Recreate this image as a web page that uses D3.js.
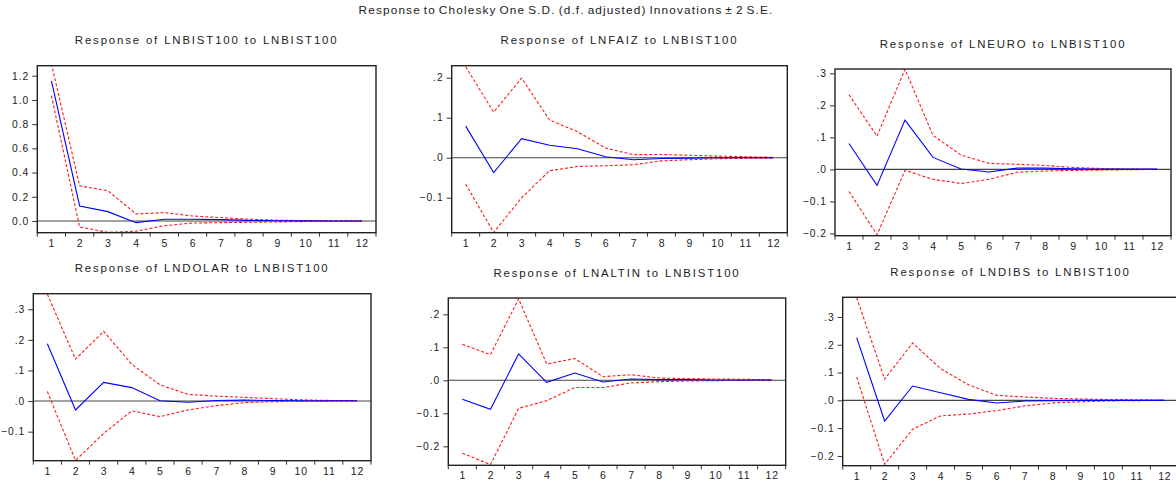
<!DOCTYPE html>
<html><head><meta charset="utf-8">
<script src="https://cdn.jsdelivr.net/npm/d3@7"></script>
<style>
html,body{margin:0;padding:0;background:#fff;}
svg{display:block;font-family:"Liberation Sans",Arial,sans-serif;}
</style></head>
<body><svg id="c" width="1176" height="481"></svg>
<script>
// ---------------- data ----------------
const periods = [1,2,3,4,5,6,7,8,9,10,11,12];
const mainTitle = "Response to Cholesky One S.D. (d.f. adjusted) Innovations \u00B1 2 S.E.";
const titles = [
  "Response of LNBIST100 to LNBIST100",
  "Response of LNFAIZ to LNBIST100",
  "Response of LNEURO to LNBIST100",
  "Response of LNDOLAR to LNBIST100",
  "Response of LNALTIN to LNBIST100",
  "Response of LNDIBS to LNBIST100"
];
// LNBIST100
const bistResp  = [1.157,0.124,0.077,-0.014,0.014,0.014,0.011,0.005,0.002,0.001,0.000,0.000];
const bistUpper = [1.300,0.290,0.250,0.058,0.069,0.041,0.028,0.014,0.006,0.003,0.001,0.000];
const bistLower = [1.035,-0.050,-0.094,-0.085,-0.039,-0.017,-0.014,-0.011,-0.008,-0.005,-0.003,-0.001];
// LNFAIZ
const faizResp  = [0.079,-0.037,0.0475,0.031,0.0225,0.0025,-0.005,-0.002,-0.001,0.000,0.000,0.000];
const faizUpper = [0.2275,0.114,0.199,0.094,0.065,0.024,0.0075,0.008,0.006,0.004,0.0025,0.001];
const faizLower = [-0.066,-0.187,-0.100,-0.0325,-0.022,-0.020,-0.0175,-0.008,-0.005,-0.0025,-0.0015,-0.001];
// LNEURO
const euroResp  = [0.081,-0.050,0.154,0.0375,0.001,-0.008,0.004,0.004,0.002,0.001,0.001,0.001];
const euroUpper = [0.233,0.104,0.3125,0.106,0.045,0.019,0.016,0.0125,0.006,0.003,0.001,0.000];
const euroLower = [-0.069,-0.204,-0.003,-0.031,-0.044,-0.031,-0.009,-0.005,-0.003,-0.002,-0.001,0.000];
// LNDOLAR
const dolarResp  = [0.1875,-0.029,0.061,0.044,0.001,-0.004,0.002,0.003,0.002,0.001,0.001,0.001];
const dolarUpper = [0.349,0.137,0.228,0.120,0.053,0.022,0.016,0.012,0.008,0.004,0.002,0.001];
const dolarLower = [0.031,-0.194,-0.106,-0.032,-0.051,-0.029,-0.015,-0.005,-0.002,-0.001,0.000,0.000];
// LNALTIN
const altinResp  = [-0.0576,-0.088,0.080,-0.006,0.022,-0.005,0.004,0.002,0.002,0.001,0.001,0.001];
const altinUpper = [0.109,0.078,0.247,0.0495,0.066,0.011,0.017,0.007,0.005,0.004,0.003,0.002];
const altinLower = [-0.221,-0.2556,-0.085,-0.0616,-0.022,-0.022,-0.008,-0.004,-0.002,-0.001,0.000,0.000];
// LNDIBS
const dibsResp  = [0.2254,-0.0743,0.0516,0.0276,0.0036,-0.0096,-0.0024,-0.001,0.000,0.000,0.000,0.000];
const dibsUpper = [0.369,0.0767,0.206,0.114,0.056,0.018,0.012,0.007,0.005,0.003,0.002,0.001];
const dibsLower = [0.084,-0.230,-0.104,-0.056,-0.049,-0.037,-0.020,-0.0096,-0.005,-0.002,-0.001,0.000];
// y-axis tick values
const ticksBist  = [0.0,0.2,0.4,0.6,0.8,1.0,1.2];
const ticksFaiz  = [-0.1,0.0,0.1,0.2];
const ticksEuro  = [-0.2,-0.1,0.0,0.1,0.2,0.3];
const ticksDolar = [-0.1,0.0,0.1,0.2,0.3];
const ticksAltin = [-0.2,-0.1,0.0,0.1,0.2];
const ticksDibs  = [-0.2,-0.1,0.0,0.1,0.2,0.3];

// ---------------- layout ----------------
const panels = [
  {title:titles[0], resp:bistResp, up:bistUpper, lo:bistLower, ticks:ticksBist, lead:true,
   box:[37.3,65.7,376,232.7], dom:[-0.097,1.283]},
  {title:titles[1], resp:faizResp, up:faizUpper, lo:faizLower, ticks:ticksFaiz,
   box:[451.7,65.7,787.3,232.7], dom:[-0.1875,0.23]},
  {title:titles[2], resp:euroResp, up:euroUpper, lo:euroLower, ticks:ticksEuro,
   box:[835,69,1171,235.7], dom:[-0.207,0.3135]},
  {title:titles[3], resp:dolarResp, up:dolarUpper, lo:dolarLower, ticks:ticksDolar,
   box:[33.3,293.7,371,460.7], dom:[-0.195,0.351]},
  {title:titles[4], resp:altinResp, up:altinUpper, lo:altinLower, ticks:ticksAltin,
   box:[448.3,298,785.7,465.3], dom:[-0.2576,0.2495]},
  {title:titles[5], resp:dibsResp, up:dibsUpper, lo:dibsLower, ticks:ticksDibs,
   box:[842.7,297.3,1178.3,465.7], dom:[-0.235,0.3705]}
];

const svg = d3.select("#c");
svg.append("rect").attr("width",1176).attr("height",481).attr("fill","#fff");

svg.append("text").attr("x",566).attr("y",13.5).attr("text-anchor","middle")
  .attr("font-size","11.8px").attr("fill","#222").attr("letter-spacing","1.15px")
  .attr("word-spacing","-1.5px").text(mainTitle);

const fmtLead = d3.format(".1f");
const fmtNoLead = v => { let s = d3.format(".1f")(Math.abs(v) < 1e-9 ? 0 : v); return s.replace(/^(-?)0\./, "$1."); };

panels.forEach((p,i) => {
  const [L,T,R,B] = p.box;
  const g = svg.append("g");
  const x = d3.scaleBand().domain(periods).range([L,R]).paddingInner(0).paddingOuter(0);
  const y = d3.scaleLinear().domain(p.dom).range([B,T]);
  const cx = d => x(d) + x.bandwidth()/2;

  // title
  g.append("text").attr("x",(L+R)/2).attr("y",T-21.5).attr("text-anchor","middle")
    .attr("font-size","11.4px").attr("letter-spacing","1.85px").attr("fill","#222").text(p.title);

  const clipId = "clip"+i;
  svg.append("clipPath").attr("id",clipId).append("rect")
    .attr("x",L).attr("y",T).attr("width",R-L).attr("height",B-T);

  // y axis (ticks outside, left)
  const yAxis = d3.axisLeft(y).tickValues(p.ticks).tickSize(5).tickPadding(3)
    .tickFormat(p.lead ? fmtLead : fmtNoLead);
  const ya = g.append("g").attr("transform",`translate(${L},0)`).call(yAxis);
  ya.select(".domain").remove();
  ya.selectAll(".tick line").attr("stroke","#333").attr("stroke-width",1);
  ya.selectAll(".tick text").attr("font-size","10.3px").attr("letter-spacing","1px")
    .attr("fill","#222").attr("font-family","Liberation Sans, Arial, sans-serif");

  // x axis: ticks at band boundaries, labels centred in bands
  const xa = g.append("g");
  const bounds = periods.map(d => x(d)).concat([x(periods[periods.length-1]) + x.bandwidth()]);
  xa.selectAll("line").data(bounds).join("line")
    .attr("x1",d=>d).attr("x2",d=>d).attr("y1",B).attr("y2",B+4)
    .attr("stroke","#333").attr("stroke-width",1);
  xa.selectAll("text").data(periods).join("text")
    .attr("x",d=>cx(d)+0.5).attr("y",B+14).attr("text-anchor","middle")
    .attr("font-size","10.5px").attr("letter-spacing","0.8px").attr("fill","#222").text(d=>d);

  const plot = g.append("g").attr("clip-path",`url(#${clipId})`);
  // zero line
  plot.append("line").attr("x1",L).attr("x2",R).attr("y1",y(0)).attr("y2",y(0))
    .attr("stroke","#444").attr("stroke-width",1.1);
  const line = d3.line().x((v,k)=>cx(periods[k])).y(v=>y(v));
  plot.append("path").datum(p.up).attr("d",line).attr("fill","none")
    .attr("stroke","#ff1a1a").attr("stroke-width",1.1).attr("stroke-dasharray","3,2");
  plot.append("path").datum(p.lo).attr("d",line).attr("fill","none")
    .attr("stroke","#ff1a1a").attr("stroke-width",1.1).attr("stroke-dasharray","3,2");
  plot.append("path").datum(p.resp).attr("d",line).attr("fill","none")
    .attr("stroke","#0000ff").attr("stroke-width",1.1);

  // frame
  g.append("rect").attr("x",L).attr("y",T).attr("width",R-L).attr("height",B-T)
    .attr("fill","none").attr("stroke","#222").attr("stroke-width",1.4);
});
</script>
</body></html>
